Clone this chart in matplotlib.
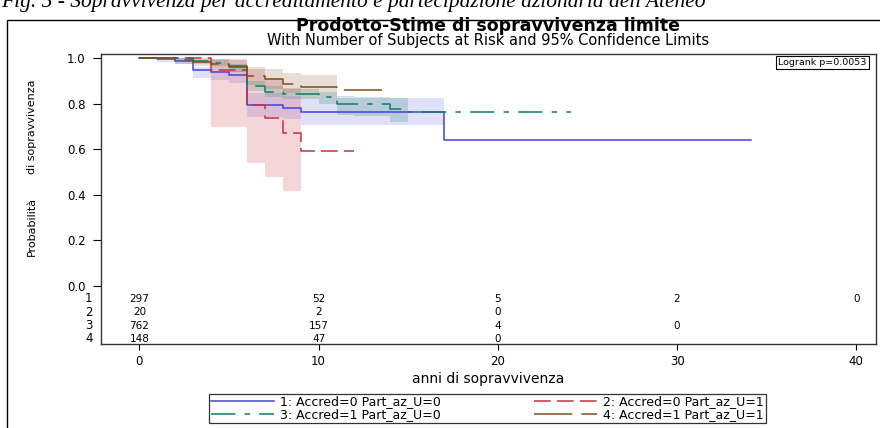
import numpy as np
import matplotlib
matplotlib.use("Agg")
import matplotlib.pyplot as plt
from matplotlib import font_manager
from matplotlib.patches import Rectangle

plt.rcParams['font.family'] = ['DejaVu Sans']

# survival curves (step functions)
t1 = [0, 1, 2, 3, 4, 5, 6, 8, 9, 17, 34.1]
s1 = [1.0, 0.994, 0.988, 0.947, 0.940, 0.925, 0.793, 0.779, 0.764, 0.638, 0.638]
t2 = [0, 4, 6, 7, 8, 9, 12]
s2 = [1.0, 0.947, 0.793, 0.735, 0.672, 0.591, 0.591]
t3 = [0, 3, 4, 5, 6, 7, 8, 10, 11, 14, 15, 24.1]
s3 = [1.0, 0.987, 0.978, 0.959, 0.877, 0.852, 0.842, 0.827, 0.798, 0.776, 0.761, 0.761]
t4 = [0, 2, 3, 4, 5, 6, 7, 8, 9, 11, 14]
s4 = [1.0, 0.991, 0.984, 0.974, 0.965, 0.921, 0.906, 0.886, 0.874, 0.859, 0.859]

# 95% confidence bands
b1_t = [1, 2, 3, 4, 5, 6, 8, 9, 17]
b1_hi = [1.0, 1.0, 0.96, 0.955, 0.945, 0.845, 0.835, 0.825, 0.825]
b1_lo = [0.983, 0.975, 0.912, 0.905, 0.89, 0.74, 0.73, 0.705, 0.705]
b2_t = [4, 6, 7, 8, 9]
b2_hi = [0.995, 0.95, 0.91, 0.87, 0.87]
b2_lo = [0.698, 0.54, 0.475, 0.415, 0.415]
b3_t = [2, 3, 4, 5, 6, 7, 8, 10, 11, 12, 14, 15]
b3_hi = [1.0, 0.995, 0.99, 0.975, 0.90, 0.875, 0.865, 0.85, 0.835, 0.83, 0.823, 0.823]
b3_lo = [0.985, 0.975, 0.965, 0.94, 0.855, 0.83, 0.82, 0.80, 0.75, 0.745, 0.72, 0.72]
b4_t = [2, 3, 4, 5, 6, 7, 8, 9, 11]
b4_hi = [1.0, 1.0, 0.995, 0.99, 0.96, 0.95, 0.935, 0.925, 0.925]
b4_lo = [0.975, 0.965, 0.955, 0.94, 0.88, 0.865, 0.845, 0.825, 0.825]

# number at risk table
risk_times = [0, 10, 20, 30, 40]
risk1 = ["297", "52", "5", "2", "0"]
risk2 = ["20", "2", "0", "", ""]
risk3 = ["762", "157", "4", "0", ""]
risk4 = ["148", "47", "0", "", ""]

labels = ["1: Accred=0 Part_az_U=0", "2: Accred=0 Part_az_U=1",
          "3: Accred=1 Part_az_U=0", "4: Accred=1 Part_az_U=1"]

colors = ["#4444dd", "#c8303e", "#0f7d6c", "#7c4f1e"]
dashes = [None, (11, 4), (16, 6, 3.5, 6), (25, 6)]

fig = plt.figure(figsize=(8.8, 4.28), dpi=100)
W, H = 880.0, 428.0
ax = fig.add_axes([101 / W, 1 - 344 / H, 775 / W, 290 / H])

curves = [(t1, s1), (t2, s2), (t3, s3), (t4, s4)]
bands = [(b1_t, b1_hi, b1_lo), (b2_t, b2_hi, b2_lo), (b3_t, b3_hi, b3_lo), (b4_t, b4_hi, b4_lo)]
alphas = [0.16, 0.2, 0.2, 0.18]

for (bt, hi, lo), c, a in zip(bands, colors, alphas):
    ax.fill_between(bt, lo, hi, step="post", color=c, alpha=a, lw=0)

handles = []
for (t, s), c, d in zip(curves, colors, dashes):
    ln, = ax.plot(t, s, drawstyle="steps-post", color=c, lw=1.1)
    if d is not None:
        ln.set_dashes(d)
    handles.append(ln)

# risk table
rows_y = [-0.059, -0.118, -0.177, -0.235]
for row, ry, name in zip([risk1, risk2, risk3, risk4], rows_y, ["1", "2", "3", "4"]):
    for xt, v in zip(risk_times, row):
        ax.text(xt, ry, v, ha="center", va="center", fontsize=7.5)
    ax.text(-0.011, ry, name, transform=ax.get_yaxis_transform(),
            ha="right", va="center", fontsize=8.5)

ax.set_xlim(-2.14, 41.1)
ax.set_ylim(-0.257, 1.0176)
ax.set_xticks([0, 10, 20, 30, 40])
ax.set_yticks([0, 0.2, 0.4, 0.6, 0.8, 1.0])
ax.set_yticklabels(["0.0", "0.2", "0.4", "0.6", "0.8", "1.0"])
ax.tick_params(axis="y", direction="out", length=6, width=0.8, labelsize=8.5, pad=5)
ax.tick_params(axis="x", direction="out", length=4, width=0.8, labelsize=8.5, pad=4)
for sp in ax.spines.values():
    sp.set_linewidth(1.0)
    sp.set_color("#333333")

ax.text(0.988, 0.987, "Logrank p=0.0053", transform=ax.transAxes, ha="right", va="top",
        fontsize=6.8, bbox=dict(boxstyle="square,pad=0.2", fc="white", ec="black", lw=0.8))

ax.set_xlabel("anni di sopravvivenza", fontsize=10, labelpad=3)

# y label in a narrow font
names = {f.name for f in font_manager.fontManager.ttflist}
narrow = "Liberation Sans Narrow" if "Liberation Sans Narrow" in names else "DejaVu Sans"
ysize = 8.5 if narrow != "DejaVu Sans" else 8
fig.text(32 / W, 1 - 226 / H, "Probabilità", rotation=90, ha="center", va="center",
         fontsize=ysize, family=narrow)
fig.text(32 / W, 1 - 127 / H, "di sopravvivenza", rotation=90, ha="center", va="center",
         fontsize=ysize, family=narrow)

# titles
fig.text(488 / W, 1 - 26 / H, "Prodotto-Stime di sopravvivenza limite", ha="center",
         va="center", fontsize=12.5, fontweight="bold")
fig.text(488 / W, 1 - 41 / H, "With Number of Subjects at Risk and 95% Confidence Limits",
         ha="center", va="center", fontsize=10.5)

# caption from the page, cut at the top edge
fig.text(1 / W, 1 - 7 / H,
         "Fig. 5 - Sopravvivenza per accreditamento e partecipazione azionaria dell'Ateneo",
         ha="left", va="baseline", fontsize=15.5, style="italic", family="Liberation Serif")

# outer frame of the figure on the page
fig.patches.append(Rectangle((7 / W, -0.05), 2, 1 - 20 / H + 0.05, transform=fig.transFigure,
                             fill=False, ec="black", lw=1.0))

leg = fig.legend([handles[0], handles[2], handles[1], handles[3]],
                 [labels[0], labels[2], labels[1], labels[3]],
                 ncol=2, loc="center", bbox_to_anchor=(487.5 / W, 1 - 408.5 / H),
                 fontsize=9, frameon=True, fancybox=False, edgecolor="black",
                 handlelength=5.0, handletextpad=0.5, columnspacing=7.5,
                 labelspacing=0.0, borderpad=0.15, borderaxespad=0)
leg.get_frame().set_linewidth(0.9)

fig.savefig("out.png", dpi=100)
